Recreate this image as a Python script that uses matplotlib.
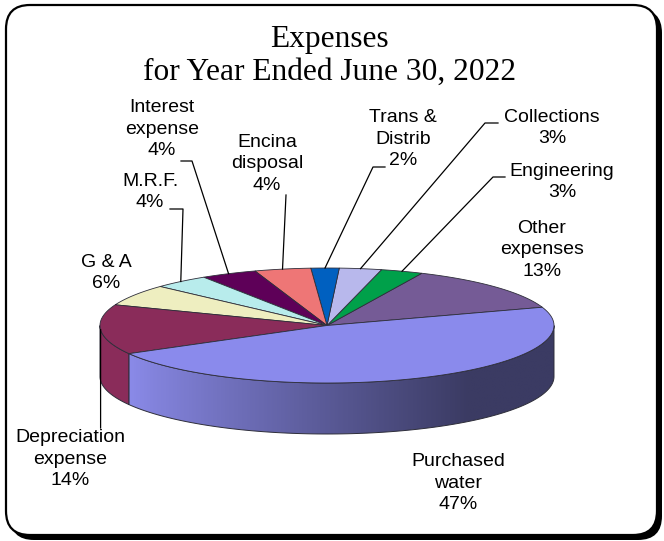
import numpy as np
import matplotlib.pyplot as plt
from matplotlib.patches import Polygon, FancyBboxPatch
from matplotlib.colors import LinearSegmentedColormap

# expense categories, counter-clockwise from the right edge of the pie
labels = ['Other\nexpenses', 'Engineering', 'Collections', 'Trans &\nDistrib',
          'Encina\ndisposal', 'Interest\nexpense', 'M.R.F.', 'G & A',
          'Depreciation\nexpense', 'Purchased\nwater']
shares = [13, 3, 3, 2, 4, 4, 4, 6, 14, 47]
colors = ['#755b96', '#00a04a', '#b8b8ec', '#0060c0', '#ee7676',
          '#5e0058', '#b8ecec', '#eeeec0', '#8a2c5a', '#8a8aec']

# label centres and leader elbows (pixel space)
label_xy = [(542, 250), (562, 182), (552, 128), (403, 139), (267, 164),
            (162, 129), (150, 192), (106, 273), (70, 459), (458, 483)]
leaders = [None, [(505, 177), (493, 177)], [(498, 123), (485, 123)],
           [(385, 167), (373, 167)], [(286, 195)], [(181, 161), (192, 161)],
           [(170, 209), (183, 209)], None, [(100.6, 428)], None]

W, H = 664, 541
cx, cy, rx, ry, depth = 327, 325.5, 227, 57.5, 51
start = 18.5

fig = plt.figure(figsize=(W / 100, H / 100), dpi=100)
ax = fig.add_axes([0, 0, 1, 1])


def rim(t, dy=0.0):
    t = np.radians(t)
    return np.column_stack([cx + rx * np.cos(t), cy - ry * np.sin(t) + dy])


# rounded frame with drop shadow
ax.add_patch(FancyBboxPatch((10, 9), 652, 531, boxstyle='round,pad=0,rounding_size=24',
                            fc='black', ec='none', zorder=0))
ax.add_patch(FancyBboxPatch((6, 5), 651, 530, boxstyle='round,pad=0,rounding_size=24',
                            fc='white', ec='black', lw=1.6, zorder=1))

edges = start + 3.6 * np.concatenate([[0], np.cumsum(shares)])
edge_col = '#2e2e3a'

# front side walls
for i, (a0, a1) in enumerate(zip(edges[:-1], edges[1:])):
    for lo, hi in [(180, 360), (540, 720)]:
        s, e = max(a0, lo), min(a1, hi)
        if e <= s:
            continue
        ts = np.linspace(s, e, 120)
        pts = np.vstack([rim(ts), rim(ts[::-1], depth)])
        if labels[i].startswith('Purchased'):
            wall = Polygon(pts, closed=True, fc='none', ec=edge_col, lw=0.7, zorder=3)
            ax.add_patch(wall)
            xs = np.linspace(cx - rx, cx + rx, 400)
            g = np.clip((xs - 130) / (470 - 130), 0, 1) ** 0.9
            cmap = LinearSegmentedColormap.from_list('side', ['#8a8ae8', '#3b3b63'])
            im = ax.imshow(g[None, :], cmap=cmap, vmin=0, vmax=1, aspect='auto',
                           extent=(cx - rx, cx + rx, cy + ry + depth, cy - ry),
                           interpolation='bilinear', zorder=2)
            im.set_clip_path(Polygon(pts, closed=True, transform=ax.transData))
        else:
            ax.add_patch(Polygon(pts, closed=True, fc=colors[i], ec=edge_col,
                                 lw=0.7, zorder=2))

# top faces
for i, (a0, a1) in enumerate(zip(edges[:-1], edges[1:])):
    ts = np.linspace(a0, a1, 150)
    pts = np.vstack([[cx, cy], rim(ts)])
    ax.add_patch(Polygon(pts, closed=True, fc=colors[i], ec=edge_col, lw=0.6, zorder=3))

# labels and leader lines
for i, lab in enumerate(labels):
    x, y = label_xy[i]
    ax.text(x, y, f'{lab}\n{shares[i]}%', ha='center', va='center', fontsize=14,
            family='Liberation Sans', linespacing=1.38, zorder=5)
    if leaders[i]:
        mid = (edges[i] + edges[i + 1]) / 2
        p = rim([mid])[0]
        path = np.vstack([leaders[i], p])
        ax.plot(path[:, 0], path[:, 1], color='black', lw=0.9, zorder=4)

ax.text(329, 40, 'Expenses', ha='center', va='center', fontsize=22.6,
        family='Liberation Serif')
ax.text(330, 72, 'for Year Ended June 30, 2022', ha='center', va='center',
        fontsize=22.6, family='Liberation Serif')

ax.set_xlim(0, W)
ax.set_ylim(H, 0)
ax.axis('off')
fig.savefig('out.png', dpi=100)
